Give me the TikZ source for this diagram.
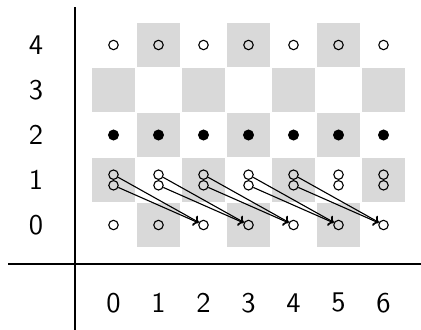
\documentclass[tikz,border=0pt]{standalone}
\usetikzlibrary{arrows.meta}
\begin{document}
\begin{tikzpicture}[x=1cm,y=1cm,
  cell/.style={fill=black!15, draw=none},
  gen/.style={circle, draw, line width=0.7pt, minimum size=0.21cm, inner sep=0pt},
  genfilled/.style={circle, fill, minimum size=0.245cm, inner sep=0pt},
  axis/.style={line width=0.9pt},
  lbl/.style={font=\sffamily, scale=1.8},
  diff/.style={line width=0.7pt, ->}]
\useasboundingbox (-2.522,-2.333) rectangle (6.833,5.0);

% checkerboard background
\foreach \s in {0,...,6}
  \foreach \t in {0,...,4} {
    \pgfmathtruncatemacro{\parity}{mod(\s+\t,2)}
    \ifnum\parity=1
      \fill[cell] (\s-0.488,\t-0.488) rectangle (\s+0.488,\t+0.488);
    \fi
  }

% axes
\coordinate (vtop) at (-0.856,4.844);
\coordinate (vbot) at (-0.856,-2.333);
\coordinate (hl) at (-2.344,-0.867);
\coordinate (hr) at (6.833,-0.867);
\draw[axis] (vtop) -- (vbot);
\draw[axis] (hl) -- (hr);

% axis labels
\foreach \t in {0,...,4}
  \node[lbl] (row\t) at (-1.72,\t) {\t};
\foreach \s in {0,...,6}
  \node[lbl] (col\s) at (\s,-1.73) {\s};

% generators
\foreach \s in {0,...,6} {
  \node[gen] (a\s) at (\s,0) {};
  \node[gen] (u\s) at (\s,1.118) {};
  \node[gen] (l\s) at (\s,0.882) {};
  \node[genfilled] (d\s) at (\s,2) {};
  \node[gen] (e\s) at (\s,4) {};
}

% differentials
\foreach \s [evaluate=\s as \tg using int(\s+2)] in {0,...,4} {
  \draw[diff] (u\s) -- (a\tg);
  \draw[diff] (l\s) -- (a\tg);
}
\end{tikzpicture}
\end{document}
